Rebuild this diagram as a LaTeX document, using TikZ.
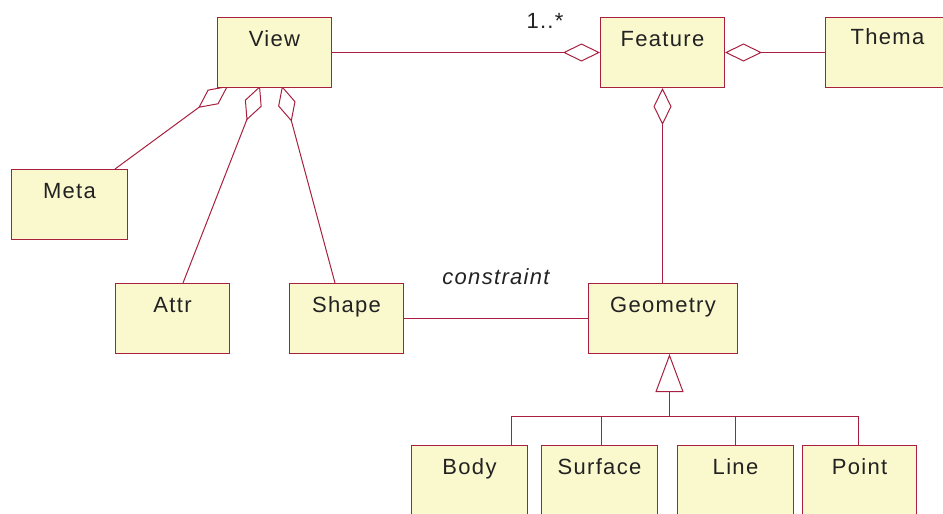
\documentclass[tikz,border=0pt]{standalone}
\usepackage{fontspec}
\setmainfont{Liberation Sans}[LetterSpace=6]
\usetikzlibrary{arrows.meta,calc,backgrounds}
\definecolor{umlred}{RGB}{168,32,64}
\definecolor{umlfill}{RGB}{250,248,205}
\definecolor{umltext}{RGB}{34,34,34}
\begin{document}
\begin{tikzpicture}[x=1pt,y=-1pt,
  cls/.style={draw=umlred, fill=umlfill, line width=1pt, inner sep=0pt,
    anchor=north west, text height=29pt, text depth=41pt,
    minimum width=#1pt, font=\fontsize{22}{26}\selectfont, text=umltext},
  low/.style={text depth=44pt},
  conn/.style={draw=umlred, line width=1pt},
  agg/.style={conn, {Diamond[open, length=37pt, width=18pt]}-},
  gen/.style={conn, {Triangle[open, length=38pt, width=28pt]}-},
  lbl/.style={anchor=base, inner sep=0pt, font=\fontsize{22}{26}\selectfont, text=umltext}]
\useasboundingbox (0,0) rectangle (943,514);
% classes
\node[cls=114] (view) at (217,17) {View};
\node[cls=124] (feature) at (600,17) {Feature};
\node[cls=124, text height=27pt, text depth=43pt] (thema) at (825,17) {Thema};
\node[cls=116] (meta) at (11,169) {Meta};
\node[cls=114] (attr) at (115,283) {Attr};
\node[cls=114] (shape) at (289,283) {Shape};
\node[cls=149] (geometry) at (588,283) {Geometry};
\node[cls=116, low] (body) at (411,445) {Body};
\node[cls=116, low] (surface) at (541,445) {Surface};
\node[cls=116, low] (line) at (677,445) {Line};
\node[cls=114, low] (point) at (802,445) {Point};
% labels
\node[lbl] (mult) at (545,28) {1..*};
\node[lbl, font=\fontsize{22}{26}\selectfont\itshape] (cons) at (496,284) {constraint};
% connectors
\begin{pgfonlayer}{background}
\coordinate (a1) at ($(view.south west)+(11,-2)$);
\coordinate (a2) at ($(view.south west)+(43,-2)$);
\coordinate (a3) at ($(view.south west)+(65,-2)$);
\coordinate (m1) at ($(meta.north west)+(104,0)$);
\coordinate (m2) at ($(attr.north west)+(68,0)$);
\coordinate (m3) at ($(shape.north west)+(46,0)$);
\draw[agg] (a1) -- (m1);
\draw[agg] (a2) -- (m2);
\draw[agg] (a3) -- (m3);
\end{pgfonlayer}
\draw[agg] (feature.west) -- (view.east);
\draw[agg] (feature.east) -- (thema.west);
\draw[agg] (feature.south) -- (feature.south |- geometry.north);
\draw[conn] (shape.east) -- (geometry.west);
% generalization
\coordinate (gt) at ($(geometry.south)+(6.5,0)$);
\coordinate (gb) at ($(gt)+(0,62)$);
\coordinate (d1) at ($(body.north west)+(100,0)$);
\coordinate (d2) at ($(surface.north west)+(60,0)$);
\coordinate (d3) at ($(line.north west)+(58,0)$);
\coordinate (d4) at ($(point.north west)+(56,0)$);
\draw[gen] (gt) -- (gb);
\draw[conn] (d1) -- (d1 |- gb) -- (d4 |- gb) -- (d4);
\draw[conn] (d2) -- (d2 |- gb);
\draw[conn] (d3) -- (d3 |- gb);
\end{tikzpicture}
\end{document}
